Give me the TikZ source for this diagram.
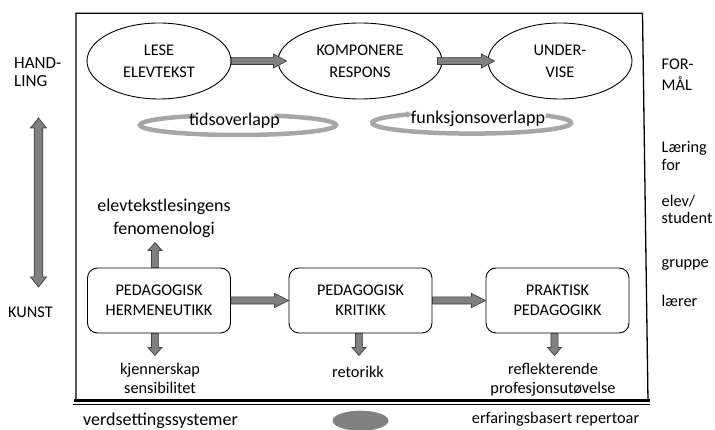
\documentclass[tikz,border=0pt]{standalone}
\usepackage{fontspec}
\setmainfont{Carlito}
\usetikzlibrary{shapes.geometric,calc,arrows.meta}
\definecolor{arrgray}{HTML}{808080}
\definecolor{arredge}{HTML}{404040}
\definecolor{ringgray}{HTML}{A6A6A6}
\tikzset{
  oval/.style={draw=black, line width=0.9pt, ellipse, minimum width=144pt, minimum height=76pt, inner sep=0pt, align=center, font=\fontsize{16.3}{22}\selectfont},
  rbox/.style={draw=black, line width=0.9pt, rounded corners=10pt, minimum width=143pt, minimum height=65pt, inner sep=0pt, align=center, font=\fontsize{16.3}{20}\selectfont},
  blk/.style={fill=arrgray, draw=arredge, line width=0.7pt, line join=miter},
  lbl/.style={inner sep=0pt, align=center, font=\fontsize{16.3}{18.5}\selectfont},
  biglbl/.style={inner sep=0pt, align=center, font=\fontsize{18}{22.5}\selectfont},
  side/.style={inner sep=0pt, anchor=base west, font=\fontsize{16.3}{20}\selectfont},
  ring/.style={draw=ringgray, line width=4.5pt},
}
% block arrow: [head length]{start}{end}
\newcommand\blockarrow[3][13]{%
  \coordinate (baS) at (#2);
  \coordinate (baE) at (#3);
  \coordinate (baC) at ($(baE)!#1pt!(baS)$);
  \draw[blk] ($(baS)!3.6pt!90:(baE)$) -- ($(baC)!3.6pt!90:(baE)$) -- ($(baC)!7pt!90:(baE)$)
    -- (baE) -- ($(baC)!7pt!-90:(baE)$) -- ($(baC)!3.6pt!-90:(baE)$) -- ($(baS)!3.6pt!-90:(baE)$) -- cycle;
}
\newcommand\dblarrow[2]{%
  \coordinate (daS) at (#1);
  \coordinate (daE) at (#2);
  \coordinate (daC) at ($(daE)!10pt!(daS)$);
  \coordinate (daD) at ($(daS)!10pt!(daE)$);
  \draw[blk] (daS) -- ($(daD)!8pt!90:(daE)$) -- ($(daD)!4.3pt!90:(daE)$) -- ($(daC)!4.3pt!90:(daE)$)
    -- ($(daC)!8pt!90:(daE)$) -- (daE) -- ($(daC)!8pt!-90:(daE)$) -- ($(daC)!4.3pt!-90:(daE)$)
    -- ($(daD)!4.3pt!-90:(daE)$) -- ($(daD)!8pt!-90:(daE)$) -- cycle;
}
\begin{document}
\begin{tikzpicture}[x=1pt,y=1pt]
\useasboundingbox (0,0) rectangle (715,430);
% frame
\draw[line width=1.3pt] (648,29) -- (642.5,416.7) -- (76,416.7) -- (76,29);
\draw[line width=3pt] (74,29) -- (650,29);
\draw[line width=1pt] (73,25.3) -- (650,25.3);
\fill[arrgray] (360.5,9.3) ellipse [x radius=28, y radius=10];

% top row
\node[oval] (lese) at (159,369) {LESE\\ELEVTEKST};
\node[oval, minimum width=164pt] (komp) at (360,369) {KOMPONERE\\RESPONS};
\node[oval] (under) at (560,369) {UNDER-\\VISE};
\blockarrow{lese.east}{$(komp.west)+(9,0)$}
\blockarrow{$(komp.east)+(-5,0)$}{$(under.west)+(7,0)$}

% overlap rings
\draw[ring, -{Triangle[length=5pt,width=6.5pt]}] (238,305) ++(68:98 and 10)
  arc[start angle=68, end angle=-245, x radius=98, y radius=10];
\node[biglbl, anchor=base] (tids) at (234.5,304) {tidsoverlapp};
\draw[ring, -{Triangle[length=5pt,width=6.5pt]}] (471.7,307.2) ++(42:99.5 and 10.8)
  arc[start angle=42, end angle=-233, x radius=99.5, y radius=10.8];
\node[biglbl, anchor=base] (funk) at (478,306.7) {funksjonsoverlapp};

% boxes
\node[rbox] (herm) at (159,129.5) {PEDAGOGISK\\HERMENEUTIKK};
\node[rbox] (krit) at (360.5,129.5) {PEDAGOGISK\\KRITIKK};
\node[rbox] (prak) at (557.5,129.5) {PRAKTISK\\PEDAGOGIKK};
\blockarrow[14]{herm.east}{krit.west}
\blockarrow[14]{krit.east}{prak.west}

% labels around boxes
\node[biglbl, anchor=south] (feno) at (164,192.3) {elevtekstlesingens\\fenomenologi};
\blockarrow[8]{$(herm.north)+(-4,0)$}{$(herm.north)+(-4,25)$}
\node[lbl, anchor=north] (kjenn) at (160,67) {kjennerskap\\sensibilitet};
\blockarrow[8]{$(herm.south)+(-4,0)$}{$(herm.south)+(-4,-22)$}
\node[lbl, anchor=base] (reto) at (358,52) {retorikk};
\blockarrow[8]{$(krit.south)+(-1.5,0)$}{$(krit.south)+(-1.5,-22)$}
\node[lbl, anchor=north] (refl) at (553,67) {reflekterende\\profesjonsutøvelse};
\blockarrow[8]{$(prak.south)+(-3,0)$}{$(prak.south)+(-3,-22)$}

% bottom labels
\node[biglbl, anchor=base west] (verd) at (83,4.3) {verdsettingssystemer};
\node[lbl, anchor=base west] (erf) at (471.7,6.7) {erfaringsbasert repertoar};

% left side
\node[side, font=\fontsize{17}{20}\selectfont] (hand1) at (14,361) {HAND-};
\node[side, font=\fontsize{17}{20}\selectfont] (hand2) at (14,343.3) {LING};
\node[side] (kunst) at (8,112) {KUNST};
\coordinate (vtop) at (38.5,312);
\coordinate (vbot) at (38.5,143);
\dblarrow{vtop}{vbot}

% right side
\node[side] (for1) at (661.5,360) {FOR-};
\node[side] (for2) at (661.5,339.3) {MÅL};
\node[side] (laer1) at (661.5,277) {Læring};
\node[side] (laer2) at (661.5,259.3) {for};
\node[side] (elev1) at (661.5,223.3) {elev/};
\node[side] (elev2) at (661.5,206) {student};
\node[side] (grp) at (661.5,162) {gruppe};
\node[side] (laerer) at (661.5,123.3) {lærer};
\end{tikzpicture}
\end{document}
